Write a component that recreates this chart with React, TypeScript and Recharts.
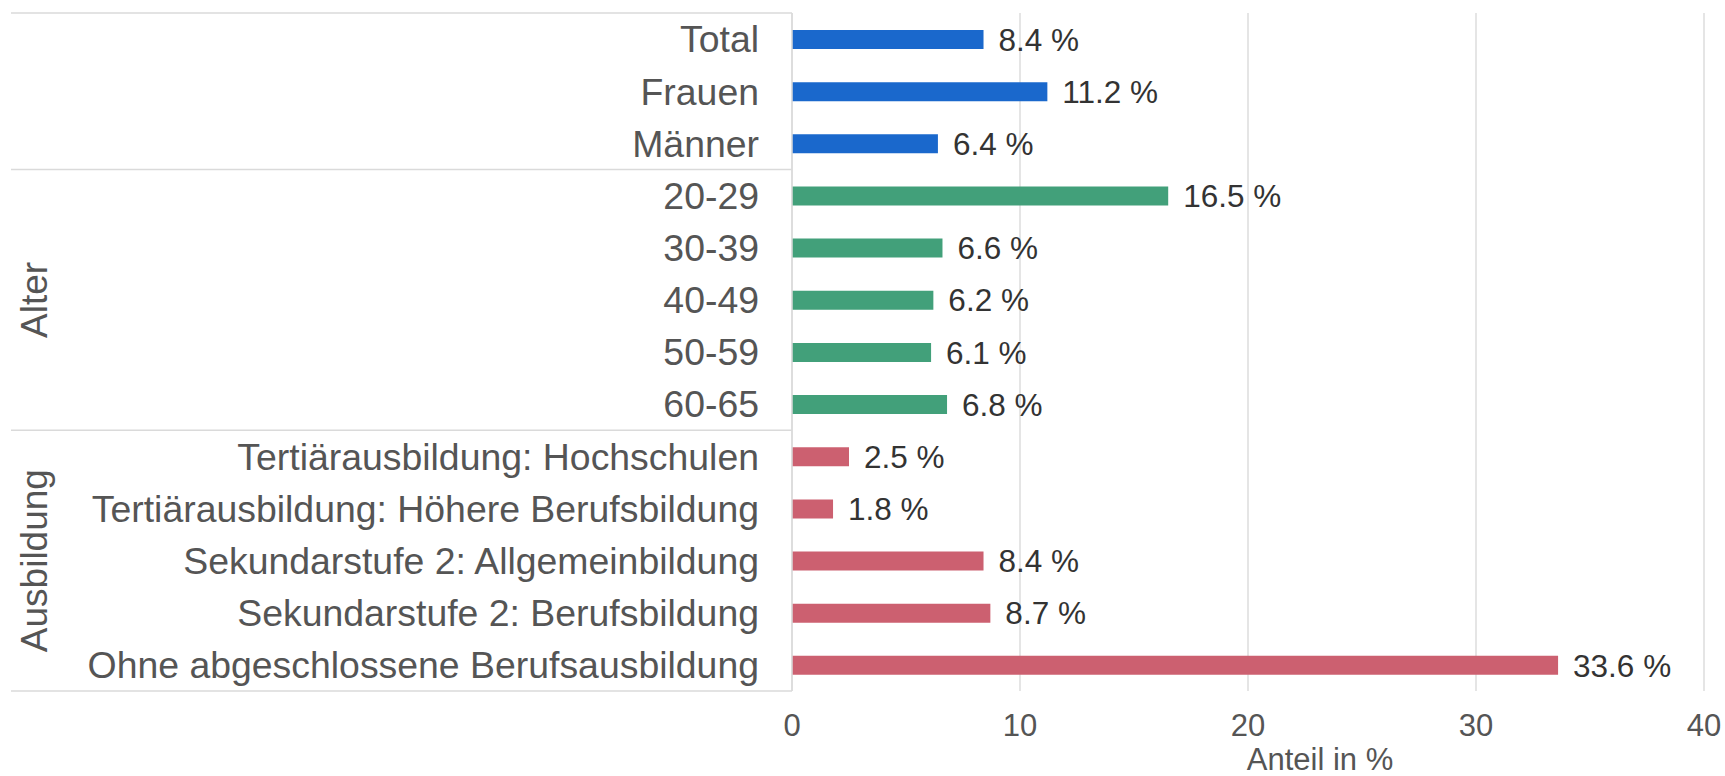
import { Bar, BarChart, CartesianGrid, Cell, LabelList, XAxis, YAxis } from 'recharts'

// categories, grouped as in the facet strips
const groupNames = ['', 'Alter', 'Ausbildung']
const totalCats = ['Total', 'Frauen', 'Männer']
const alterCats = ['20-29', '30-39', '40-49', '50-59', '60-65']
const ausbildungCats = [
  'Tertiärausbildung: Hochschulen',
  'Tertiärausbildung: Höhere Berufsbildung',
  'Sekundarstufe 2: Allgemeinbildung',
  'Sekundarstufe 2: Berufsbildung',
  'Ohne abgeschlossene Berufsausbildung',
]

// Anteil in %
const totalValues = [8.4, 11.2, 6.4]
const alterValues = [16.5, 6.6, 6.2, 6.1, 6.8]
const ausbildungValues = [2.5, 1.8, 8.4, 8.7, 33.6]

const xTicks = [0, 10, 20, 30, 40]

const groupColors = ['#1a68cc', '#42a07a', '#cc6070']
const groups = [totalCats, alterCats, ausbildungCats]
const groupValues = [totalValues, alterValues, ausbildungValues]

const data = groups.flatMap((cats, g) =>
  cats.map((name, i) => ({ name, value: groupValues[g][i], group: g }))
)

const W = 1725
const H = 776
const TOP = 13
const RIGHT = 21
const AXIS_W = 792
const XAXIS_H = 85
const STRIP_LEFT = 11
const FONT = '"Liberation Sans", Arial, sans-serif'

function Strips() {
  const bottom = H - XAXIS_H
  const band = (bottom - TOP) / data.length
  let acc = 0
  const bounds = [TOP]
  const centers: number[] = []
  groups.forEach((cats) => {
    const start = TOP + acc * band
    acc += cats.length
    const end = TOP + acc * band
    bounds.push(end)
    centers.push((start + end) / 2)
  })
  return (
    <svg width={W} height={H} style={{ position: 'absolute', left: 0, top: 0, pointerEvents: 'none' }}>
      {bounds.map((y, i) => (
        <line key={i} x1={STRIP_LEFT} x2={AXIS_W} y1={y} y2={y} stroke='#dadada' strokeWidth={1.5} />
      ))}
      {groupNames.map((g, i) =>
        g ? (
          <text
            key={g}
            x={47}
            y={centers[i]}
            transform={`rotate(-90 47 ${centers[i]})`}
            textAnchor='middle'
            fontSize={37}
            fontFamily={FONT}
            fill='#555555'
          >
            {g}
          </text>
        ) : null
      )}
    </svg>
  )
}

export default function App() {
  return (
    <div style={{ position: 'absolute', left: 0, top: 0, width: W, height: H, fontFamily: FONT }}>
      <BarChart
        width={W}
        height={H}
        data={data}
        layout='vertical'
        margin={{ top: TOP, right: RIGHT, bottom: 0, left: 0 }}
      >
        <CartesianGrid horizontal={false} stroke='#dcdcdc' strokeWidth={1.5} />
        <XAxis
          type='number'
          domain={[0, 40]}
          ticks={xTicks}
          height={XAXIS_H}
          axisLine={false}
          tickLine={false}
          tickSize={0}
          tickMargin={23}
          tick={{ fontSize: 31, fill: '#555555', fontFamily: FONT }}
          label={{
            value: 'Anteil in %',
            position: 'insideBottom',
            offset: 6,
            dx: 72,
            fontSize: 31,
            fill: '#555555',
            fontFamily: FONT,
          }}
        />
        <YAxis
          type='category'
          dataKey='name'
          width={AXIS_W}
          interval={0}
          axisLine={{ stroke: '#dadada', strokeWidth: 1.5 }}
          tickLine={false}
          tickSize={0}
          tickMargin={33}
          tick={{ fontSize: 37.4, fill: '#555555', fontFamily: FONT }}
        />
        <Bar dataKey='value' barSize={19} isAnimationActive={false}>
          {data.map((d, i) => (
            <Cell key={i} fill={groupColors[d.group]} />
          ))}
          <LabelList
            dataKey='value'
            position='right'
            offset={15}
            formatter={(v: any) => `${Number(v).toFixed(1)} %`}
            style={{ fontSize: 31.5, fill: '#333333', fontFamily: FONT }}
          />
        </Bar>
      </BarChart>
      <Strips />
    </div>
  )
}
